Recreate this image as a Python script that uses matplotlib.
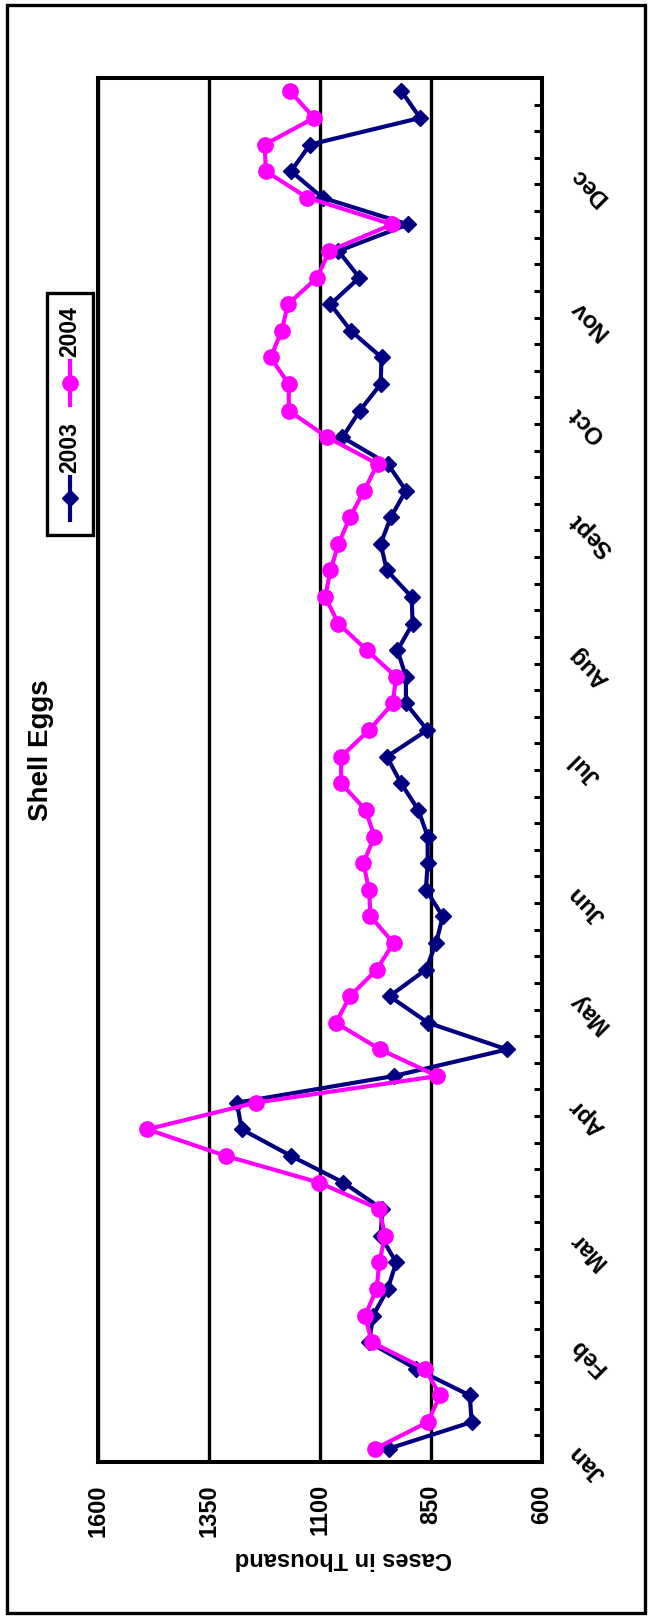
"""
Shell Eggs weekly cases, 2003 vs 2004 (chart drawn turned on its side)
"""

import numpy as np
import matplotlib.pyplot as plt
from matplotlib.lines import Line2D
from matplotlib.patches import Rectangle

plt.rcParams['font.family'] = ['Liberation Sans', 'DejaVu Sans']
plt.rcParams['font.weight'] = 'bold'

# weekly values, cases in thousand
cases_2003 = [945, 758, 762, 883, 989, 980, 947, 928, 963, 959,
              1047, 1165, 1276, 1287, 934, 678, 856, 943, 861, 838,
              823, 861, 857, 857, 878, 917, 949, 858, 906, 906,
              925, 891, 893, 949, 963, 940, 906, 947, 1049, 1010,
              963, 961, 1030, 1076, 1011, 1058, 901, 1094, 1165, 1122,
              874, 916]
cases_2004 = [975, 857, 829, 863, 983, 998, 972, 966, 953, 966,
              1102, 1312, 1489, 1245, 835, 964, 1064, 1032, 972, 934,
              986, 989, 1002, 977, 997, 1052, 1052, 989, 936, 928,
              994, 1058, 1088, 1076, 1058, 1032, 1000, 970, 1083, 1170,
              1170, 1211, 1186, 1172, 1106, 1079, 937, 1128, 1222, 1224,
              1113, 1167]
weeks = np.arange(len(cases_2003))

months = ['Jan', 'Feb', 'Mar', 'Apr', 'May', 'Jun',
          'Jul', 'Aug', 'Sept', 'Oct', 'Nov', 'Dec']
month_start_week = [0, 4, 8, 13, 17, 21, 26, 30, 35, 39, 43, 48]
value_ticks = [600, 850, 1100, 1350, 1600]

W, H = 648, 1616
fig = plt.figure(figsize=(W / 100, H / 100), dpi=100)


def fx(px):
    return px / W


def fy(py):
    return 1 - py / H


ax = fig.add_axes([fx(98), fy(1462), fx(541.7) - fx(98), fy(78) - fy(1462)])

ax.plot(cases_2003, weeks, color='#000080', lw=3, marker='D', ms=8.5,
        zorder=3, clip_on=False)
ax.plot(cases_2004, weeks, color='#FF00FF', lw=3, marker='o', ms=11,
        zorder=4, clip_on=False)

ax.set_xlim(1600, 600)
ax.set_ylim(-0.5, len(weeks) - 0.5)

ax.set_xticks(value_ticks)
ax.set_xticklabels([str(v) for v in value_ticks], rotation=90,
                   fontsize=17, fontweight='bold')
ax.tick_params(axis='x', length=0, pad=16)
ax.grid(axis='x', color='black', lw=2.4, zorder=1)

ax.yaxis.tick_right()
ax.set_yticks(np.arange(0.5, len(weeks) - 1, 1.0))
ax.set_yticklabels([])
ax.tick_params(axis='y', direction='in', length=5.5, width=2.2, color='black')

for sp in ax.spines.values():
    sp.set_linewidth(2.9)
    sp.set_color('black')

for name, wk in zip(months, month_start_week):
    ax.text(1.07, wk, name, transform=ax.get_yaxis_transform(),
            rotation=135, rotation_mode='anchor', ha='right', va='center',
            fontsize=17, fontweight='bold')

fig.text(fx(343), fy(1558), 'Cases in Thousand', rotation=180,
         ha='center', va='center', fontsize=17, fontweight='bold')
fig.text(fx(41), fy(750), 'Shell Eggs', rotation=90,
         ha='center', va='center', fontsize=20, fontweight='bold')

# legend, turned like the rest
fig.add_artist(Rectangle((fx(46.7), fy(535)), fx(93.3) - fx(46.7),
                         fy(293) - fy(535), transform=fig.transFigure,
                         fill=False, lw=2.4, edgecolor='black'))
fig.add_artist(Line2D([fx(70), fx(70)], [fy(520), fy(477)],
                      transform=fig.transFigure, color='#000080', lw=3))
fig.add_artist(Line2D([fx(70)], [fy(498)], transform=fig.transFigure,
                      color='#000080', marker='D', ms=8))
fig.text(fx(70), fy(447), '2003', rotation=90, ha='center', va='center',
         fontsize=16.5, fontweight='bold')
fig.add_artist(Line2D([fx(70), fx(70)], [fy(405), fy(361)],
                      transform=fig.transFigure, color='#FF00FF', lw=3))
fig.add_artist(Line2D([fx(70)], [fy(383)], transform=fig.transFigure,
                      color='#FF00FF', marker='o', ms=11))
fig.text(fx(70), fy(332), '2004', rotation=90, ha='center', va='center',
         fontsize=16.5, fontweight='bold')

# outer frame
fig.add_artist(Rectangle((fx(7), fy(1613)), fx(645) - fx(7),
                         fy(5) - fy(1613), transform=fig.transFigure,
                         fill=False, lw=2.4, edgecolor='black'))

fig.savefig('out.png', dpi=100)
